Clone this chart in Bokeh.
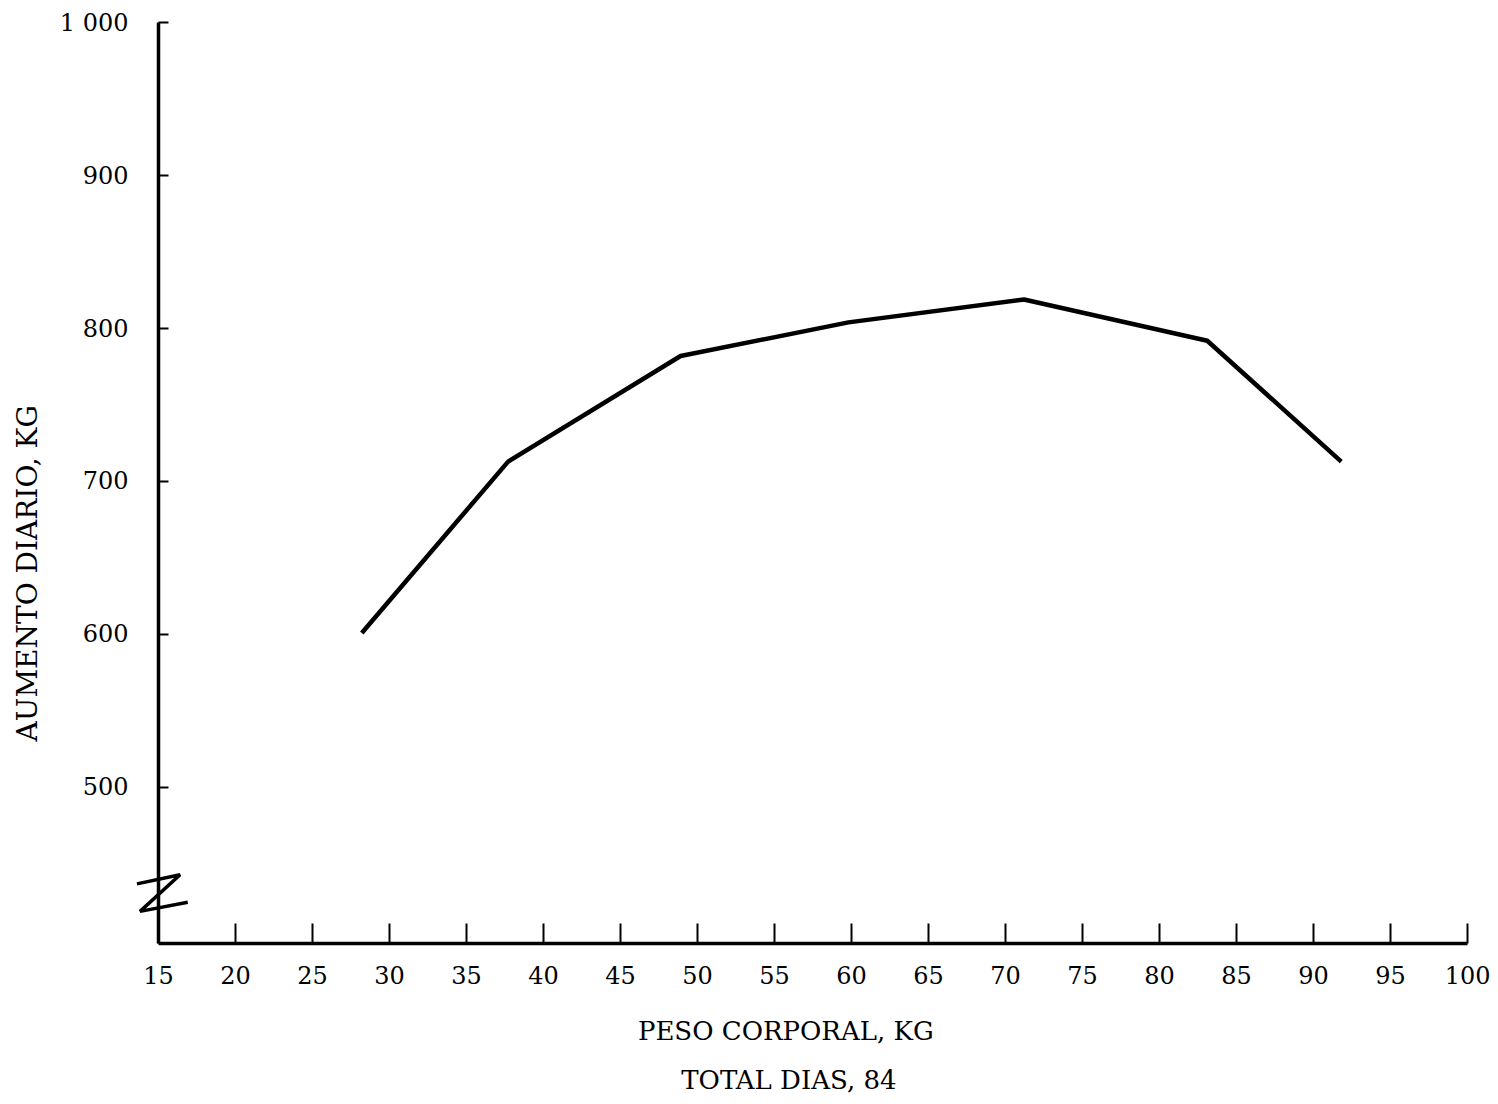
from bokeh.plotting import figure
from bokeh.models import Range1d, FixedTicker, Label
from bokeh.embed import file_html
from bokeh.resources import INLINE
import math

# Data
peso = [28.2, 37.7, 48.9, 59.8, 71.2, 83.1, 91.8]
aumento = [601, 713, 782, 804, 819, 792, 713]

x_ticks = list(range(15, 101, 5))
y_ticks = [500, 600, 700, 800, 900, 1000]
y_tick_labels = {1000: "1 000"}

x_title = "PESO CORPORAL,  KG"
x_subtitle = "TOTAL DIAS,  84"
y_title = "AUMENTO DIARIO, KG"

FONT = "DejaVu Serif"

# the frame covers the whole canvas; axes are drawn at fixed locations
p = figure(width=1494, height=1096, output_backend="svg", toolbar_location=None,
           x_range=Range1d(4.74, 101.75), y_range=Range1d(298, 1014.4),
           min_border_left=0, min_border_top=0, min_border_right=0,
           min_border_bottom=0)
p.outline_line_color = None
p.xgrid.visible = False
p.ygrid.visible = False

p.line(peso, aumento, line_color="black", line_width=4.5)

# x axis at y = 398
xa = p.xaxis[0]
xa.fixed_location = 398
xa.bounds = (15, 100)
xa.ticker = FixedTicker(ticks=x_ticks)
xa.axis_line_width = 3.5
xa.major_tick_in = 20
xa.major_tick_out = 0
xa.major_tick_line_width = 2
xa.minor_tick_line_color = None
xa.major_label_text_font = FONT
xa.major_label_text_font_size = "24px"
xa.major_label_text_color = "black"
xa.major_label_standoff = 22

# y axis at x = 15
ya = p.yaxis[0]
ya.fixed_location = 15
ya.bounds = (398, 1000)
ya.ticker = FixedTicker(ticks=y_ticks)
ya.major_label_overrides = y_tick_labels
ya.axis_line_width = 3.5
ya.major_tick_in = 10
ya.major_tick_out = 0
ya.major_tick_line_width = 2
ya.minor_tick_line_color = None
ya.major_label_text_font = FONT
ya.major_label_text_font_size = "24px"
ya.major_label_text_color = "black"
ya.major_label_standoff = 30

# titles
p.add_layout(Label(x=6.5, y=640, text=y_title, angle=math.pi / 2,
                   text_align="center", text_baseline="middle",
                   text_font=FONT, text_font_size="28px", text_color="black"))
p.add_layout(Label(x=56.0, y=340.5, text=x_title,
                   text_align="center", text_baseline="middle",
                   text_font=FONT, text_font_size="26px", text_color="black"))
p.add_layout(Label(x=56.2, y=308.5, text=x_subtitle,
                   text_align="center", text_baseline="middle",
                   text_font=FONT, text_font_size="26px", text_color="black"))

# axis break mark
brk_x = [13.6, 16.4, 13.8, 16.9]
brk_y = [437, 443, 419, 425]
p.line(brk_x, brk_y, line_color="black", line_width=3.5)

open("out.html", "w").write(file_html(p, INLINE))
